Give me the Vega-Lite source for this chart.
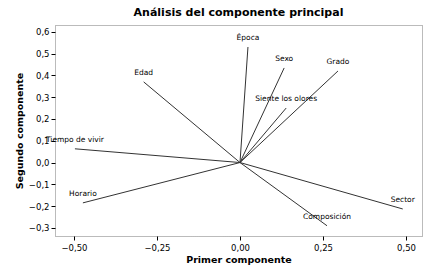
{
  "$schema": "https://vega.github.io/schema/vega-lite/v6.json",
  "autosize": "none",
  "width": 367,
  "height": 211,
  "padding": {"left": 55, "top": 25, "right": 18, "bottom": 35},
  "background": "white",
  "title": {"text": "Análisis del componente principal", "font": "DejaVu Sans", "fontSize": 11, "fontWeight": "bold", "color": "#000", "offset": 7},
  "config": {
    "view": {"stroke": "#777", "strokeDash": [1, 1], "strokeWidth": 1},
    "axis": {"grid": false, "domain": false, "tickColor": "#000", "tickSize": 4, "labelFont": "DejaVu Sans", "labelFontSize": 8.5, "labelColor": "#000", "titleFont": "DejaVu Sans", "titleFontSize": 9.5, "titleFontWeight": "bold", "titleColor": "#000"}
  },
  "data": {"values": [
    {"var": "Época", "x": 0.024, "y": 0.53},
    {"var": "Sexo", "x": 0.133, "y": 0.434},
    {"var": "Grado", "x": 0.295, "y": 0.42},
    {"var": "Edad", "x": -0.29, "y": 0.37},
    {"var": "Siente los olores", "x": 0.139, "y": 0.25},
    {"var": "Tiempo de vivir", "x": -0.497, "y": 0.063},
    {"var": "Horario", "x": -0.473, "y": -0.185},
    {"var": "Sector", "x": 0.49, "y": -0.213},
    {"var": "Composición", "x": 0.262, "y": -0.29}
  ]},
  "encoding": {
    "x": {"field": "x", "type": "quantitative", "scale": {"domain": [-0.557, 0.548], "nice": false, "zero": false},
      "axis": {"title": "Primer componente", "values": [-0.5, -0.25, 0, 0.25, 0.5], "labelExpr": "replace(format(datum.value, '.2f'), '.', ',')", "titleY": 18, "labelPadding": 3}},
    "y": {"field": "y", "type": "quantitative", "scale": {"domain": [-0.337, 0.631], "nice": false, "zero": false},
      "axis": {"title": "Segundo componente", "values": [-0.3, -0.2, -0.1, 0, 0.1, 0.2, 0.3, 0.4, 0.5, 0.6], "labelExpr": "replace(format(datum.value, '.1f'), '.', ',')", "titleX": -31, "labelPadding": 2}}
  },
  "layer": [
    {"mark": {"type": "rule", "color": "#333", "strokeWidth": 1},
     "encoding": {"x2": {"datum": 0}, "y2": {"datum": 0}}},
    {"mark": {"type": "text", "font": "DejaVu Sans", "fontSize": 7.5, "color": "#000", "dy": -9, "align": "center"},
     "encoding": {"text": {"field": "var"}}}
  ]
}
